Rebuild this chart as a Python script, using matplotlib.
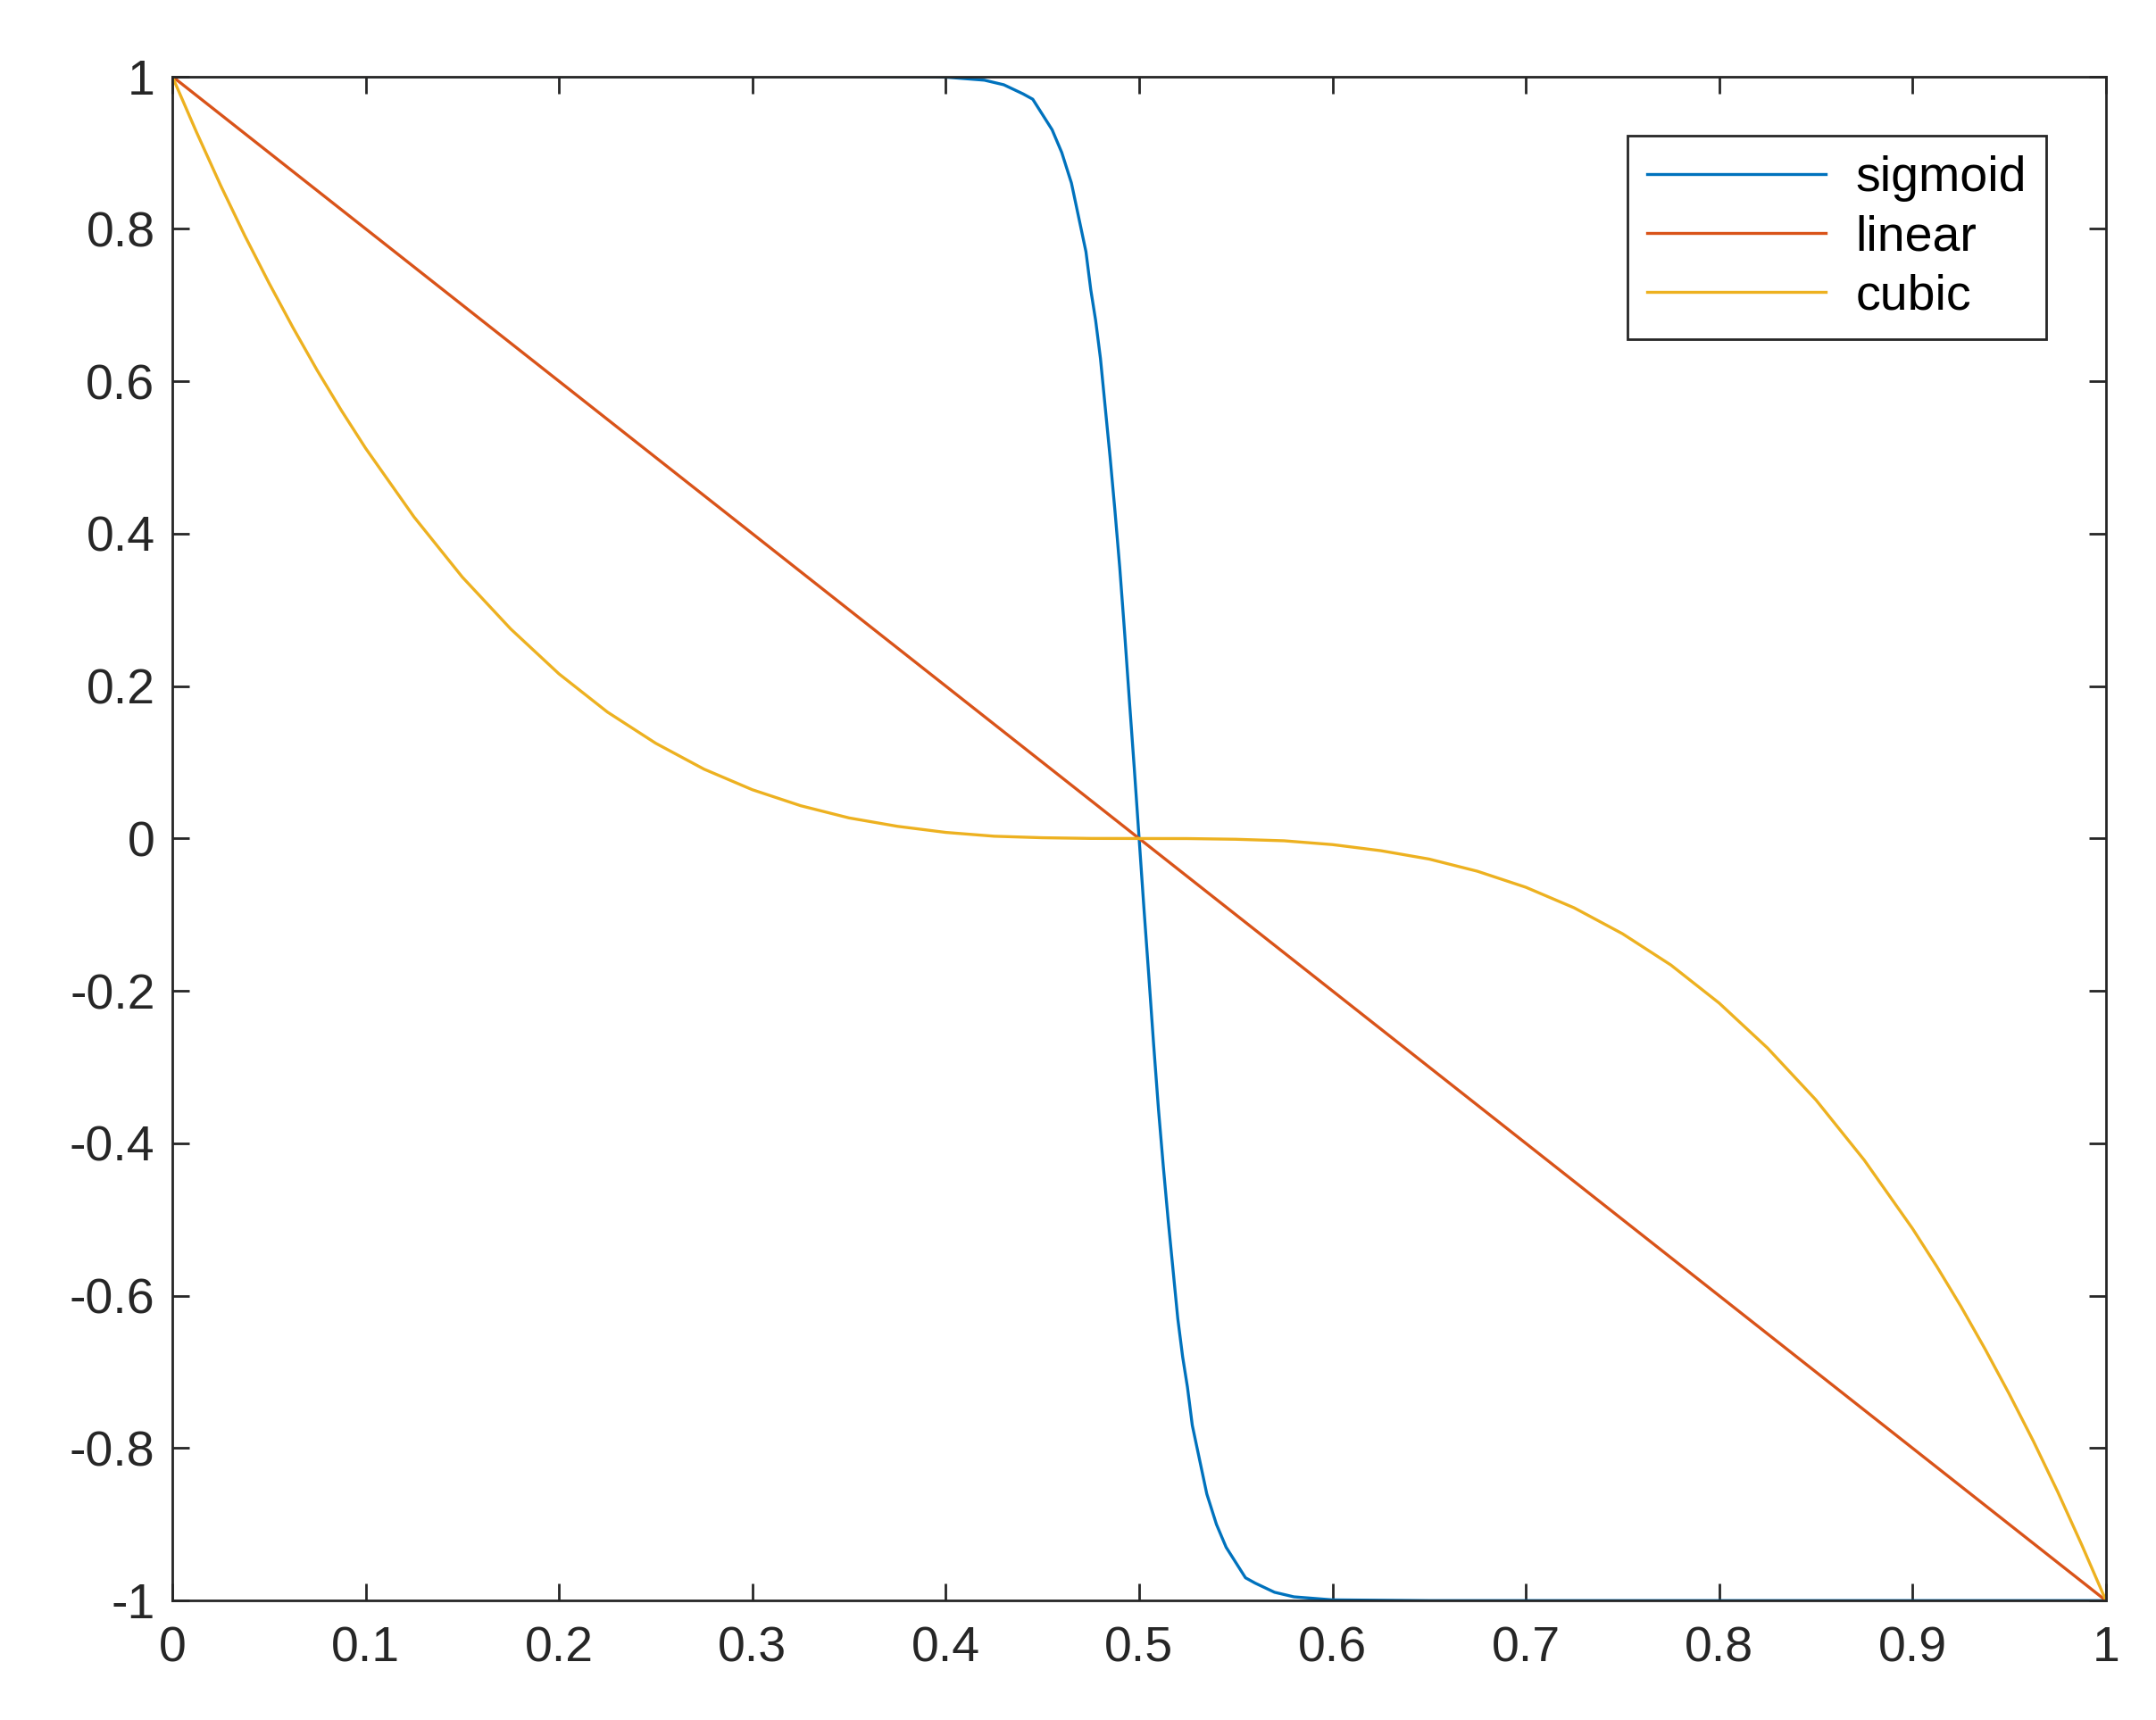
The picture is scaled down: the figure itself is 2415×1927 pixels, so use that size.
import numpy as np
import matplotlib.pyplot as plt

plt.rcParams["font.family"] = ["Liberation Sans", "DejaVu Sans"]

# curves (first half; second half is the mirror image)
sig_x = [0.0, 0.35, 0.40, 0.42, 0.43, 0.44, 0.445, 0.45, 0.455, 0.46, 0.465, 0.4675,
         0.47, 0.4725, 0.475, 0.4775, 0.48, 0.485, 0.4875, 0.49, 0.4925, 0.495, 0.4975, 0.5]
sig_y = [1.0, 1.0, 0.999, 0.995, 0.989, 0.977, 0.97, 0.95, 0.93, 0.90, 0.86, 0.83,
         0.80, 0.77, 0.72, 0.68, 0.63, 0.50, 0.43, 0.355, 0.27, 0.18, 0.092, 0.0]
cub_x = [0.0, 0.0125, 0.025, 0.0375, 0.05, 0.0625, 0.075, 0.0875, 0.1, 0.125, 0.15,
         0.175, 0.2, 0.225, 0.25, 0.275, 0.3, 0.325, 0.35, 0.375, 0.4, 0.425, 0.45,
         0.475, 0.5]
cub_y = [1.0, 0.927, 0.857, 0.791, 0.729, 0.670, 0.614, 0.5615, 0.512, 0.422, 0.343,
         0.275, 0.216, 0.166, 0.125, 0.091, 0.064, 0.043, 0.027, 0.016, 0.008, 0.003,
         0.001, 0.0001, 0.0]
lin_x = [0.0, 1.0]
lin_y = [1.0, -1.0]


def mirror(xs, ys):
    xs = np.array(xs)
    ys = np.array(ys)
    return np.concatenate([xs, 1 - xs[::-1][1:]]), np.concatenate([ys, -ys[::-1][1:]])


fig = plt.figure(figsize=(24.15, 19.27), dpi=100)
ax = fig.add_axes([0.0799, 0.0694, 0.8969, 0.8862])

lw = 2.4
x, y = mirror(sig_x, sig_y)
ax.plot(x, y, color="#0072BD", lw=lw, label="sigmoid")
ax.plot(lin_x, lin_y, color="#D95319", lw=lw, label="linear")
x, y = mirror(cub_x, cub_y)
ax.plot(x, y, color="#EDB120", lw=lw, label="cubic")

ax.set_xlim(0, 1)
ax.set_ylim(-1, 1)
ax.set_xticks(np.arange(0, 1.01, 0.1))
ax.set_yticks(np.arange(-1, 1.01, 0.2))
ax.set_xticklabels(["0", "0.1", "0.2", "0.3", "0.4", "0.5", "0.6", "0.7", "0.8", "0.9", "1"])
ax.set_yticklabels(["-1", "-0.8", "-0.6", "-0.4", "-0.2", "0", "0.2", "0.4", "0.6", "0.8", "1"])
ax.tick_params(direction="in", top=True, right=True, length=14, width=2,
               labelsize=40, colors="#262626")
ax.tick_params(axis="x", pad=20)
ax.tick_params(axis="y", pad=14)
for s in ax.spines.values():
    s.set_linewidth(2)
    s.set_color("#262626")

leg = ax.legend(loc="upper right", fontsize=40, fancybox=False, framealpha=1,
                edgecolor="#262626", handlelength=3.6, borderaxespad=1.2,
                labelspacing=0.25, handletextpad=0.6)
leg.get_frame().set_linewidth(2)

fig.savefig("out.png", dpi=100)
